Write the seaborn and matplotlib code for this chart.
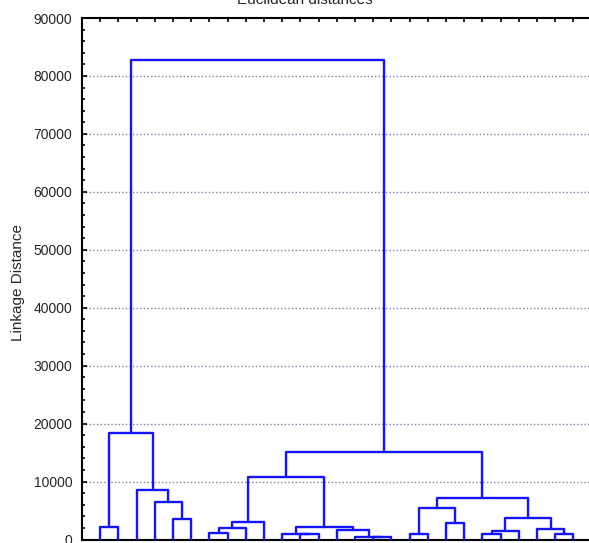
import numpy as np
import pandas as pd
import matplotlib
matplotlib.use("Agg")
import matplotlib.pyplot as plt
import seaborn as sns
from matplotlib.ticker import MultipleLocator

# Hierarchical clustering result (linkage format): leaves are 0..26 in
# display order, merge k creates cluster id 27 + k.
n_leaves = 27
merge_left = [0, 4, 3, 2, 27,
              6, 32, 33, 11, 10, 15, 14, 13, 36, 34,
              17, 19, 42, 21, 45, 25, 24, 46, 44, 41, 31]
merge_right = [1, 5, 28, 29, 30,
               7, 8, 9, 12, 35, 16, 37, 38, 39, 40,
               18, 20, 43, 22, 23, 26, 47, 48, 49, 50, 51]
merge_height = [2200, 3550, 6400, 8550, 18300,
                1200, 1950, 3100, 880, 950, 450, 500, 1650, 2200, 10750,
                950, 2900, 5400, 950, 1550, 950, 1800, 3750, 7100, 15050, 82800]

y_ticks = [0, 10000, 20000, 30000, 40000, 50000, 60000, 70000, 80000, 90000]
title_text = "Euclidean distances"
y_label = "Linkage Distance"

# Build the U-shaped link segments of the tree diagram
node_x = {i: float(i + 1) for i in range(n_leaves)}
node_y = {i: 0.0 for i in range(n_leaves)}
rows = []
for k, (a, b, h) in enumerate(zip(merge_left, merge_right, merge_height)):
    nid = n_leaves + k
    pts = [(node_x[a], node_y[a]), (node_x[a], h), (node_x[b], h), (node_x[b], node_y[b])]
    for order, (px, py) in enumerate(pts):
        rows.append({"link": k, "order": order, "x": px, "y": py})
    node_x[nid] = (node_x[a] + node_x[b]) / 2.0
    node_y[nid] = h
links = pd.DataFrame(rows)

sns.set_style("ticks")
plt.rcParams["font.family"] = ["Liberation Sans", "DejaVu Sans"]

fig = plt.figure(figsize=(5.89, 5.43), dpi=100)
ax = fig.add_axes([82 / 589, 3.5 / 543, 509.6 / 589, 521.5 / 543])

ax.set_axisbelow(True)
for v in y_ticks[1:-1]:
    ax.axhline(v, color="#7f7fa0", lw=1.0, ls=(0, (1, 1.6)), zorder=0)

sns.lineplot(data=links, x="x", y="y", units="link", estimator=None, sort=False,
             color="#1414ff", linewidth=1.7, legend=False, ax=ax, zorder=3)

ax.set_xlim(0, n_leaves + 1)
ax.set_ylim(0, 90000)
ax.set_xticks(np.arange(1, n_leaves + 1))
ax.set_xticklabels([])
ax.set_yticks(y_ticks)
ax.set_yticklabels([str(v) for v in y_ticks])
ax.yaxis.set_minor_locator(MultipleLocator(2000))

ax.tick_params(axis="x", which="major", direction="in", top=True, bottom=True,
               length=3, width=1.2, color="black", labelbottom=False)
ax.tick_params(axis="y", which="major", direction="in", left=True, right=False,
               length=3.5, width=1.2, color="black", labelsize=10, pad=7)
ax.tick_params(axis="y", which="minor", direction="in", left=True, right=False,
               length=2.5, width=1.2, color="black")

for s in ax.spines.values():
    s.set_linewidth(1.5)
    s.set_color("black")

ax.set_xlabel("")
ax.set_ylabel(y_label, fontsize=11)
ax.yaxis.set_label_coords(-0.112, 0.492)

fig.text(305 / 589, 1 - 4.5 / 543, title_text, ha="center", va="baseline", fontsize=11)

fig.savefig("out.png", dpi=100)
